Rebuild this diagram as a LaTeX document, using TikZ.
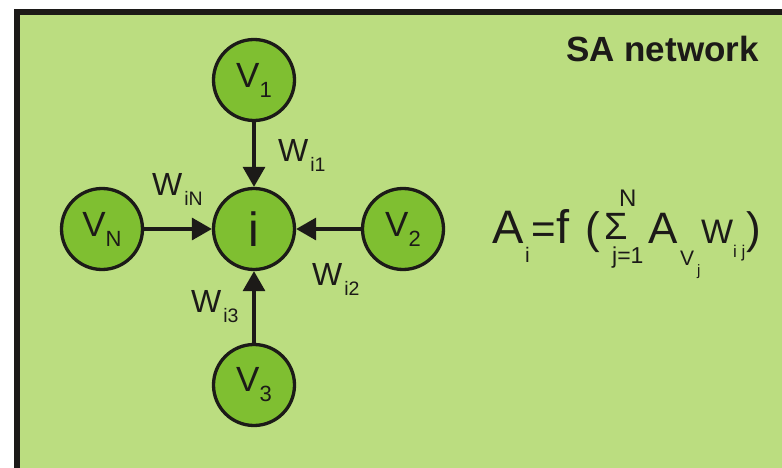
\documentclass[tikz,border=0pt]{standalone}
\usepackage{fontspec}
\setmainfont{Liberation Sans}
\usepackage{tikz}
\usetikzlibrary{arrows.meta}

\definecolor{bggreen}{RGB}{187,221,128}
\definecolor{cellgreen}{RGB}{127,191,49}
\definecolor{ink}{RGB}{28,26,24}

\newcommand{\fsize}[1]{\fontsize{#1}{#1}\selectfont}
\newcommand{\wlabel}[1]{\fsize{32}W\hspace{2pt}\raisebox{-10pt}{\fsize{19.5}#1}}

\begin{document}
\begin{tikzpicture}[x=1pt, y=-1pt,
    unit/.style={circle, draw=ink, fill=cellgreen, line width=3.3pt, minimum size=81pt, inner sep=0pt, text=ink},
    link/.style={line width=3.3pt, draw=ink, -{Triangle[length=20pt,width=22pt]}},
    lbl/.style={anchor=base west, inner sep=0pt, text=ink}]
    % Frame
    \useasboundingbox (0,0) rectangle (782,468);
    \clip (0,0) rectangle (782,468);
    \fill[white] (0,0) rectangle (782,468);
    \draw[line width=6pt, draw=ink, fill=bggreen] (16.5,12) rectangle (820,500);

    % Title
    \node[lbl] (title) at (566,62) {\fsize{35}\bfseries SA network};

    % Units
    \node[unit] (i) at (254,229) {\fsize{48}i};
    \node[unit] (v1) at (254,80) {\fsize{35}V\raisebox{-10pt}{\fsize{22}1}};
    \node[unit] (v2) at (403,229) {\fsize{35}V\raisebox{-10pt}{\fsize{22}2}};
    \node[unit] (v3) at (254,385) {\fsize{35}V\raisebox{-10pt}{\fsize{22}3}};
    \node[unit] (vn) at (102,229) {\fsize{35}V\raisebox{-10pt}{\fsize{22}N}};

    % Weighted links
    \draw[link] (v1) -- (i);
    \draw[link] (v2) -- (i);
    \draw[link] (v3) -- (i);
    \draw[link] (vn) -- (i);

    \node[lbl] (w1) at (278,161) {\wlabel{i1}};
    \node[lbl] (wn) at (152,195) {\wlabel{iN}};
    \node[lbl] (w2) at (312,285) {\wlabel{i2}};
    \node[lbl] (w3) at (191,312) {\wlabel{i3}};

    % Activation rule
    \node[lbl] (fa) at (492,243) {\fsize{47}A};
    \node[lbl] (fai) at (525,262) {\fsize{21}i};
    \node[lbl] (feq) at (531,243) {\fsize{42}=};
    \node[lbl] (ff) at (556,243) {\fsize{47}f};
    \node[lbl] (flp) at (585,243) {\fsize{44}(};
    \node[lbl] (fsum) at (604,239) {\fsize{38}Σ};
    \node[lbl] (fn) at (619,206) {\fsize{24}N};
    \node[lbl] (fj) at (612,263) {\fsize{23}j=1};
    \node[lbl] (fav) at (648,243) {\fsize{44}A};
    \node[lbl] (fv) at (680,265) {\fsize{21}V};
    \node[lbl] (fvj) at (697,275) {\fsize{15}j};
    \node[lbl] (fw) at (701,243) {\fsize{34}W};
    \node[lbl] (fij) at (733,257) {\fsize{17}i j};
    \node[lbl] (frp) at (746,243) {\fsize{44})};
\end{tikzpicture}
\end{document}
